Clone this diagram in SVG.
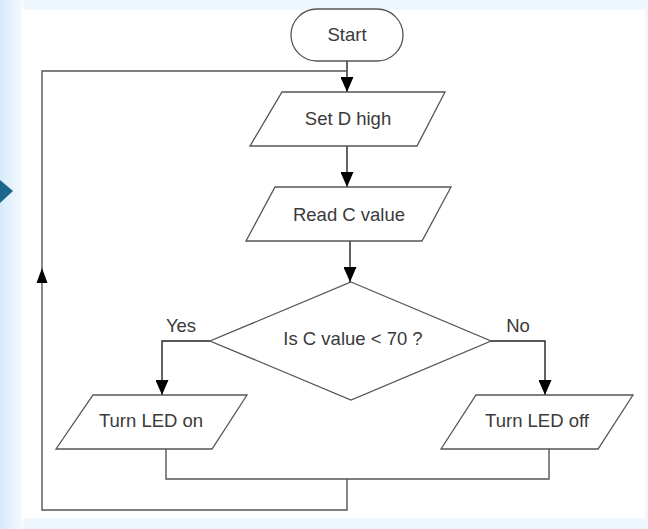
<svg xmlns="http://www.w3.org/2000/svg" width="648" height="529" viewBox="0 0 648 529">
  <defs>
    <linearGradient id="lg" x1="0" y1="0" x2="1" y2="0">
      <stop offset="0" stop-color="#d6eafb"/>
      <stop offset="1" stop-color="#f7fbfe"/>
    </linearGradient>
    <marker id="ah" markerUnits="userSpaceOnUse" markerWidth="15" markerHeight="13" refX="15" refY="6.5" orient="auto">
      <path d="M0,0 L15,6.5 L0,13 Z" fill="#000"/>
    </marker>
  </defs>
  <style>
    .shape { fill: #fff; stroke: #555; stroke-width: 1.3; }
    .conn { fill: none; stroke: #555; stroke-width: 1.4; }
    .arr { fill: none; stroke: #222; stroke-width: 1.4; marker-end: url(#ah); }
    .t { font-family: "Liberation Sans", Arial, sans-serif; font-size: 18.5px; fill: #3a3a3a; text-anchor: middle; }
  </style>
  <rect x="0" y="0" width="648" height="529" fill="#eef7fd"/>
  <rect x="0" y="0" width="24" height="529" fill="url(#lg)"/>
  <rect x="22" y="10" width="623" height="508" fill="#fff"/>
  <polygon points="0,180 13,191 0,203" fill="#1b678c"/>

  <g id="connectors">
    <line class="arr" x1="347" y1="61" x2="347" y2="92"/>
    <line class="arr" x1="347" y1="146" x2="347" y2="187"/>
    <line class="arr" x1="350" y1="241" x2="350" y2="282"/>
    <polyline class="arr" points="210,341 162,341 162,395"/>
    <polyline class="arr" points="491,341 545,341 545,395"/>
    <polyline class="conn" points="166,449 166,479 549,479 549,449"/>
    <polyline class="conn" points="347,479 347,510 42,510 42,71 347,71"/>
    <polygon points="42,268 36.5,283 47.5,283" fill="#000"/>
  </g>

  <g id="start">
    <rect class="shape" x="291" y="9" width="112" height="52" rx="26" ry="26"/>
    <text class="t" x="347" y="41">Start</text>
  </g>
  <g id="setD">
    <polygon class="shape" points="282,92 445,92 417,146 250,146"/>
    <text class="t" x="348" y="125">Set D high</text>
  </g>
  <g id="readC">
    <polygon class="shape" points="275,187 451,187 422,241 246,241"/>
    <text class="t" x="349" y="221">Read C value</text>
  </g>
  <g id="decision">
    <polygon class="shape" points="351,282 491,341 351,400 210,341"/>
    <text class="t" x="353" y="345">Is C value &lt; 70 ?</text>
    <text class="t" x="181" y="332">Yes</text>
    <text class="t" x="518" y="332">No</text>
  </g>
  <g id="ledOn">
    <polygon class="shape" points="93,395 247,395 212,449 56,449"/>
    <text class="t" x="151" y="427">Turn LED on</text>
  </g>
  <g id="ledOff">
    <polygon class="shape" points="476,395 633,395 598,449 441,449"/>
    <text class="t" x="537" y="427">Turn LED off</text>
  </g>
</svg>
